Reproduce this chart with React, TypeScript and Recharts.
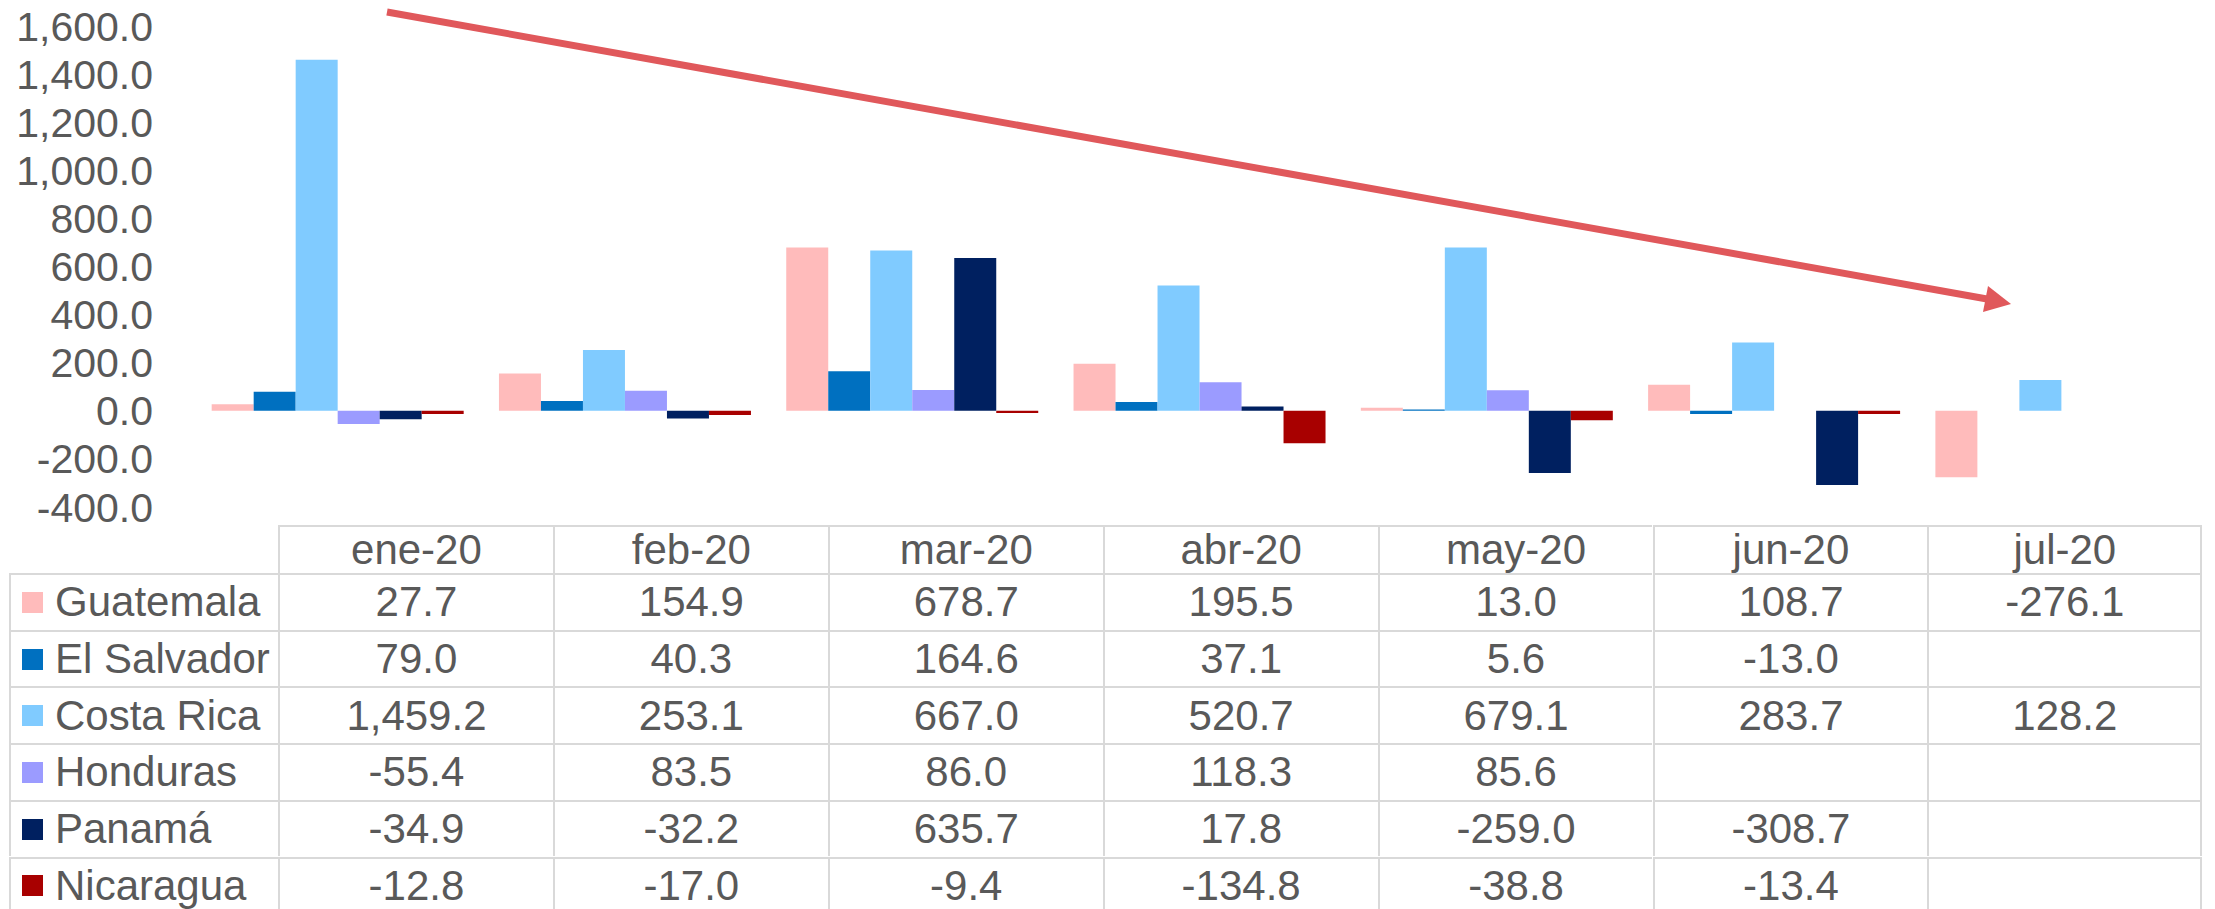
import React from "react";
import { BarChart, Bar, XAxis, YAxis } from "recharts";

const months = ["ene-20", "feb-20", "mar-20", "abr-20", "may-20", "jun-20", "jul-20"];
const guatemala = [27.7, 154.9, 678.7, 195.5, 13.0, 108.7, -276.1];
const elSalvador = [79.0, 40.3, 164.6, 37.1, 5.6, -13.0, null];
const costaRica = [1459.2, 253.1, 667.0, 520.7, 679.1, 283.7, 128.2];
const honduras = [-55.4, 83.5, 86.0, 118.3, 85.6, null, null];
const panama = [-34.9, -32.2, 635.7, 17.8, -259.0, -308.7, null];
const nicaragua = [-12.8, -17.0, -9.4, -134.8, -38.8, -13.4, null];
const yTicks = [-400, -200, 0, 200, 400, 600, 800, 1000, 1200, 1400, 1600];

const series = [
  { name: "Guatemala", values: guatemala, color: "#FFBBBB" },
  { name: "El Salvador", values: elSalvador, color: "#0070C0" },
  { name: "Costa Rica", values: costaRica, color: "#80CBFF" },
  { name: "Honduras", values: honduras, color: "#9B9BFF" },
  { name: "Panamá", values: panama, color: "#002060" },
  { name: "Nicaragua", values: nicaragua, color: "#A80000" },
];

const data = months.map((m, i) => {
  const row: Record<string, string | number | null> = { month: m };
  series.forEach((s) => { row[s.name] = s.values[i]; });
  return row;
});

const FONT = "'Liberation Sans', Arial, sans-serif";
const TEXT = "#595959";
const GRID = "#D9D9D9";

const fmt = (v: number) =>
  v.toLocaleString("en-US", { minimumFractionDigits: 1, maximumFractionDigits: 1 });

// tabla de datos debajo del gráfico
const TABLE_TOP = 525;
const HEAD_H = 48;
const ROW_H = 56.7;
const LABEL_L = 9;
const COL0 = 278;
const COL_W = 274.9;

function DataTable() {
  const cells: React.ReactNode[] = [];
  const line = `2px solid ${GRID}`;
  months.forEach((m, c) => {
    cells.push(
      <div key={"h" + c} style={{
        position: "absolute", left: COL0 + c * COL_W, top: TABLE_TOP, width: COL_W, height: HEAD_H,
        borderTop: line, borderLeft: line, borderRight: c === months.length - 1 ? line : undefined,
        boxSizing: "border-box", display: "flex", alignItems: "center", justifyContent: "center",
      }}>{m}</div>
    );
  });
  series.forEach((s, r) => {
    const top = TABLE_TOP + HEAD_H + r * ROW_H;
    cells.push(
      <div key={"l" + r} style={{
        position: "absolute", left: LABEL_L, top, width: COL0 - LABEL_L, height: ROW_H,
        borderTop: line, borderLeft: line, boxSizing: "border-box",
        display: "flex", alignItems: "center",
      }}>
        <span style={{ width: 21, height: 21, background: s.color, marginLeft: 11, marginRight: 12 }} />
        <span>{s.name}</span>
      </div>
    );
    s.values.forEach((v, c) => {
      cells.push(
        <div key={`c${r}-${c}`} style={{
          position: "absolute", left: COL0 + c * COL_W, top, width: COL_W, height: ROW_H,
          borderTop: line, borderLeft: line, borderRight: c === months.length - 1 ? line : undefined,
          boxSizing: "border-box", display: "flex", alignItems: "center", justifyContent: "center",
        }}>{v === null ? "" : fmt(v)}</div>
      );
    });
  });
  return <>{cells}</>;
}

export default function App() {
  return (
    <div style={{ position: "relative", width: 2215, height: 909, overflow: "hidden", background: "#fff",
      fontFamily: FONT, fontSize: 42, color: TEXT }}>
      <style>{`body{margin:0}`}</style>
      <div style={{ position: "absolute", left: 0, top: 0 }}>
        <BarChart width={2215} height={545} data={data}
          margin={{ top: 26, right: 11, bottom: 38, left: 0 }}
          barCategoryGap="6.5%" barGap={0}>
          <XAxis dataKey="month" hide />
          <YAxis domain={[-400, 1600]} ticks={yTicks} width={193} axisLine={false} tickLine={false}
            tickMargin={34} interval={0}
            tick={{ fill: TEXT, fontSize: 41, fontFamily: FONT }}
            tickFormatter={(v: number) => fmt(v)} />
          {series.map((s) => (
            <Bar key={s.name} dataKey={s.name} fill={s.color} isAnimationActive={false} />
          ))}
        </BarChart>
      </div>

      {/* flecha de tendencia */}
      <svg width={2215} height={909} style={{ position: "absolute", left: 0, top: 0, pointerEvents: "none" }}>
        <line x1={387} y1={12} x2={1987} y2={299} stroke="#E0585B" strokeWidth={7} />
        <polygon points="2011,304 1983,312 1988,286" fill="#E0585B" />
      </svg>

      <DataTable />
    </div>
  );
}
